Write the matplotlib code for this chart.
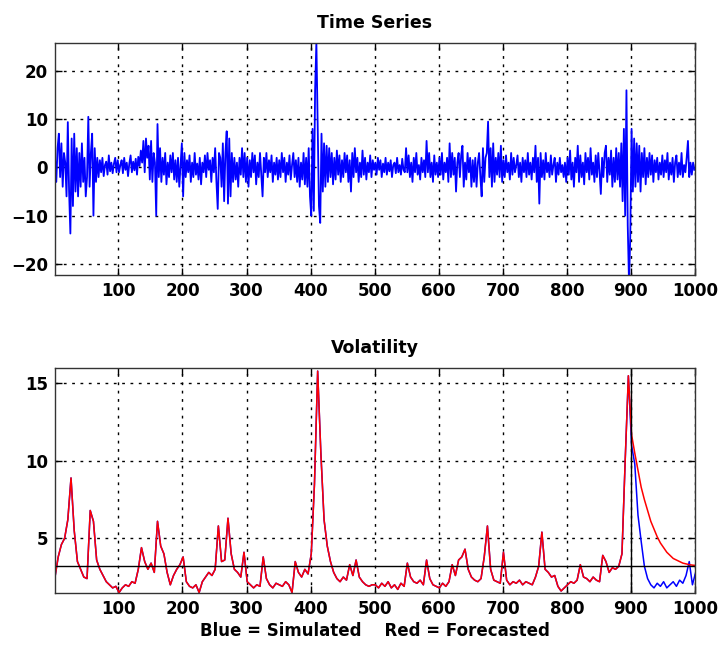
import numpy as np
import matplotlib
matplotlib.use("Agg")
import matplotlib.pyplot as plt

# ---- Data ----
# Time series, sampled every 2 steps: idx 1, 3, 5, ..., 999
ts_step = 2
ts_values = [
    2, -3, 4, 7, -2, 5, -4, 3, 1, -6, 9.4, -5, -13.7, 6, -8, 7, -5, 4, -6, 3, -4, 5, -3, 2, -6,
    -2, 10.5, -4, 3, 7, -10, 4, -3, 2, -2, 1.5, -1, 2, -1.8, 0.5, 1.2, -1.5, 2.5, -0.8, 1, -1.2, 0.8, 2, -1, 1.5,
    -1, 0.5, 1.5, -1.2, 2, -0.5, 1, -1.8, 0.8, 2.5, -1, 1.2, -0.6, 1.8, -1.5, 2.2, 0.3, 3.5, 1, 5.5, -1, 6, 2, 4.5, -2.5,
    5.5, -3, 3, 1, -10, 9, -2, 4, -3, 2, -1.5, 3, -3.5, 1, -2, 2.5, -1, 3, -2.5, 1.5, -3, 2, -4, 0.5, 5,
    -6, 3, -2, 1.5, -1, 2.5, -3, 1, -2, 3, -1.5, 0.8, -2.5, 2, -3.5, 1, -1, 2.5, -2, 3, -0.5, 1.5, -3, 2, -1,
    4, -3, -8.6, 3, 2, -4, 5, -7, 3, 7.5, -7.5, 6, -6, 3, -3, 2, -2.5, 1, -4, 2, -1.5, 4, -2, 3, -3,
    2, -4, 1.5, -2, 3, -1, 2.5, -3.5, 1, -2, 3, -1.5, -6, 2, -1, 3, -2, 1.5, -1, 2.5, -3, 1, -1.5, 2, -2.5,
    1.5, -2, 3, -1, 2, -3, 1, -1.5, 2.5, -2.5, 0.5, 3, -2, 1.5, -3, 2, -4, 1, -2.5, 3, -3.5, 2, -4, 4, -6,
    -10, 8, -9, 16, 26, 9, -8, -11.5, 7, -5, 5, -4, 4.5, -3, 4, -2, 3, -3.5, 2, -2.5, 3.5, -1.5, 2.5, -3, 1.5,
    -2, 3, -1, 2.5, -3, 1.5, -5, 3, -2, 4, -1, 2, -3, 1, -2, 3.5, -1.5, 2, -2.5, 1, -1, 2.5, -2, 1.5, -0.5,
    1, -1.5, 2, -0.5, 1.5, -2, 0.8, -1, 2, -1.5, 1, -0.8, 1.5, -2, 0.5, 1, -1.2, 2, -1, 0.5, -1.5, 1.8, -0.5, -1, 4,
    -1, 2.5, -2, 1, -3, 2, -1, 3, -1.5, 0.5, -2.5, 2, -1, 1.5, -2, 5.5, -1, 3, -2, 1, -3, 2.5, -1.5, 1, -2,
    2, -1.5, 3, -2.5, 1, -1, 2, -3, 5, -2, 3, -1.5, 2, -5, 1, 3, -2, 2.5, 4.5, -4, 1, -2.5, 3, -1, 2,
    -4, 1.5, -3, 2, -4, 1, 3, -2, -6, 4, -3, 2, 3, 9.5, -2, 4, -4, 5, -3, 2, -1.5, 3, -2, 4.5, -3,
    1.5, -2, 2.5, -1, 1, -2.5, 3, -1.5, 2, -1, 0.5, 2.5, -2, 1, -3, 2, -1, 1.5, -2, 3, -1.5, 1, -2.5, 2, -1,
    4.5, -3, 2, -7.5, 3, -2, 1.5, -2.5, 3, -1, 1, -2, 2.5, -1.5, 0.5, 2, -3, 1, -1.5, 2, -1, 0.5, -2, 1, -3,
    2, -1.5, 3.5, -2.5, 1, -4, 2, -1, 4.5, -3, 2.5, -2, 1, -3.5, 3, -1, 2, -2.5, 4, -1.5, 1, -3, 2.5, -2, 3,
    -1, -5.5, 2, -2, 3, 4.5, -3, 2, -1.5, 3.5, -4, 2, -3, 4, -2.5, 3, -4, 5, -7, 8, -10, 16, -12, -24, -14,
    8, -5, 6, -4, 5, -3, 4.5, -5, 3, -2, 4, -3.5, 2, -2, 3, -1.5, 2.5, -3, 1.5, -1, 2, -2.5, 1, -1.5, 2.5,
    -2, 1.5, -1, 3, -2.5, 1, -1.5, 2, -3, 1, 2.5, -2, 1, -1.5, 3, -2, 0.5, -1, 2, 5.5, -2, 1, -1.5, 1, -0.5,
]

# Volatility (shared simulated/forecasted part), every 5 steps: idx 1, 6, ..., 896
vol_step = 5
vol_shared = [
    2.5, 3.8, 4.6, 5.0, 6.2, 8.9, 5.5, 3.5, 3.0, 2.5,
    2.4, 6.8, 6.1, 3.6, 3.0, 2.6, 2.2, 2.0, 1.8, 1.9,
    1.5, 1.8, 2.0, 1.9, 2.2, 2.1, 3.0, 4.4, 3.5, 3.0,
    3.4, 2.8, 6.1, 4.5, 4.0, 2.8, 2.0, 2.6, 3.0, 3.3,
    3.8, 2.2, 1.9, 1.8, 2.0, 1.5, 2.2, 2.5, 2.8, 2.6,
    3.0, 5.8, 3.5, 3.6, 6.3, 4.0, 3.0, 2.8, 2.5, 4.1,
    2.2, 2.0, 1.8, 2.0, 1.9, 3.8, 2.4, 2.0, 1.8, 2.1,
    2.0, 1.9, 2.2, 2.0, 1.5, 3.5, 2.8, 2.5, 3.0, 2.7,
    4.0, 8.5, 15.8, 10.5, 6.2, 4.5, 3.5, 2.8, 2.4, 2.2,
    2.5, 2.3, 3.3, 2.6, 3.6, 2.5, 2.2, 2.0, 1.9, 2.0,
    2.0, 1.8, 2.1, 1.9, 2.2, 1.8, 2.0, 1.7, 2.1, 1.9,
    3.4, 2.5, 2.2, 2.1, 2.3, 2.0, 3.6, 2.4, 2.0, 1.9,
    1.8, 2.1, 1.9, 2.2, 3.3, 2.6, 3.6, 3.8, 4.3, 3.0,
    2.5, 2.3, 2.2, 2.4, 3.8, 5.8, 3.0, 2.3, 2.2, 2.1,
    4.1, 2.3, 2.0, 2.2, 2.1, 2.3, 2.0, 2.2, 2.1, 2.0,
    2.5, 3.2, 5.4, 3.0, 2.8, 2.5, 2.6, 1.9, 1.6, 1.8,
    2.0, 2.2, 2.1, 2.3, 3.3, 2.5, 2.4, 2.2, 2.5, 2.3,
    2.2, 3.9, 3.5, 2.8, 3.1, 3.0, 3.2, 4.0, 10.0, 15.5,
]
# Tails from idx 896 to 1001 (every 5 steps)
vol_simulated_tail = [15.5, 11.0, 9.8, 6.5, 4.8, 3.2, 2.4, 2.0, 1.8, 2.1, 1.9,
                      2.2, 1.8, 2.0, 2.2, 1.9, 2.3, 2.1, 2.6, 3.5, 2.0, 2.8]
vol_forecast_tail = [15.5, 11.7, 10.5, 9.4, 8.3, 7.5, 6.8, 6.1, 5.6, 5.1, 4.7,
                     4.4, 4.1, 3.9, 3.7, 3.6, 3.5, 3.4, 3.35, 3.3, 3.27, 3.25]
uncond_vol = 3.23
forecast_start = 900

ts_x = 1 + ts_step * np.arange(len(ts_values))
vs_x = 1 + vol_step * np.arange(len(vol_shared))
tail_x = vs_x[-1] + vol_step * np.arange(len(vol_simulated_tail))

blue_x = np.concatenate([vs_x, tail_x[1:]])
blue_y = np.concatenate([vol_shared, vol_simulated_tail[1:]])
red_x = np.concatenate([vs_x, tail_x[1:]])
red_y = np.concatenate([vol_shared, vol_forecast_tail[1:]])

plt.rcParams['font.family'] = ['DejaVu Sans']
plt.rcParams['font.weight'] = 'bold'

fig = plt.figure(figsize=(7.2, 6.5), dpi=100)
ax1 = fig.add_axes([55/720, 1-275/650, 640/720, 232/650])
ax2 = fig.add_axes([55/720, 1-593/650, 640/720, 225/650])

def style(ax):
    ax.tick_params(direction='in', top=True, right=True, length=5, width=1,
                   labelsize=12, pad=5)
    for lab in ax.get_xticklabels() + ax.get_yticklabels():
        lab.set_fontweight('bold')
    ax.grid(True, color='black', linestyle=(0, (2, 4)), linewidth=1.0)
    for s in ax.spines.values():
        s.set_linewidth(1.0)
        s.set_color('#333333')

ax1.plot(ts_x, ts_values, color='#0000ff', linewidth=1.3)
ax1.set_xlim(1, 1000)
ax1.set_ylim(-22.3, 25.8)
ax1.set_xticks(np.arange(100, 1001, 100))
ax1.set_yticks([-20, -10, 0, 10, 20])
ax1.set_title('Time Series', fontsize=12.5, fontweight='bold', pad=11)
style(ax1)

ax2.plot(blue_x, blue_y, color='#0000ff', linewidth=1.1)
ax2.plot(red_x, red_y, color='#ff0000', linewidth=1.1)
ax2.axhline(uncond_vol, color='black', linewidth=1.0)
ax2.axvline(forecast_start, color='black', linewidth=1.0)
ax2.set_xlim(1, 1000)
ax2.set_ylim(1.47, 16.0)
ax2.set_xticks(np.arange(100, 1001, 100))
ax2.set_yticks([5, 10, 15])
ax2.set_title('Volatility', fontsize=12.5, fontweight='bold', pad=11)
ax2.set_xlabel('Blue = Simulated    Red = Forecasted', fontsize=12,
               fontweight='bold', labelpad=3)
style(ax2)

fig.savefig('out.png', dpi=100)
